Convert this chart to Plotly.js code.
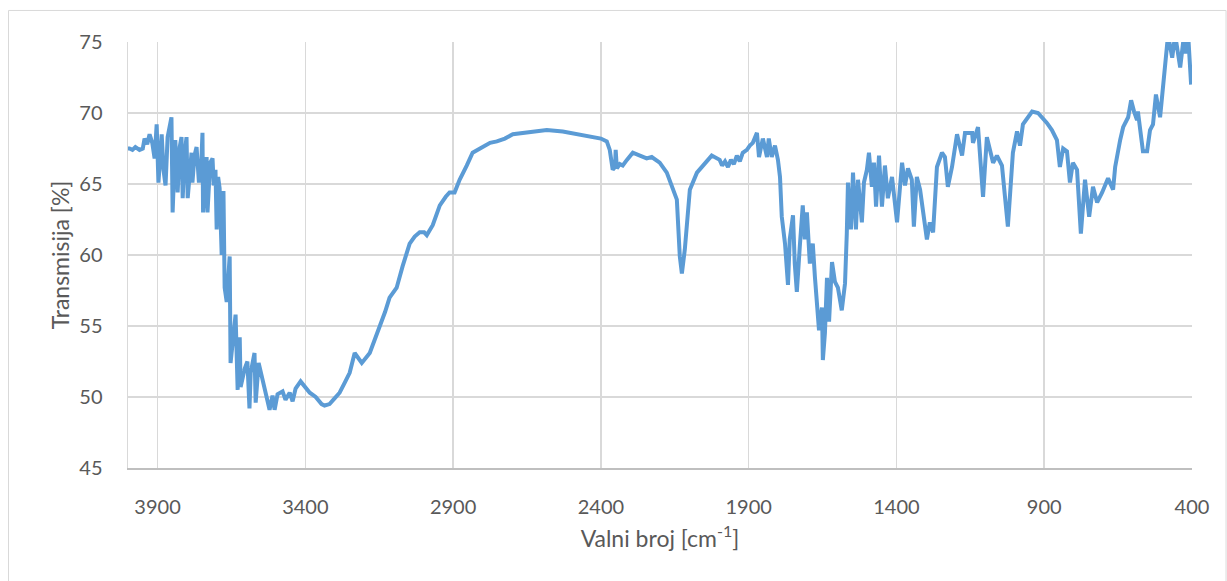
<!DOCTYPE html>
<html>
<head>
<meta charset="utf-8">
<script src="https://cdn.plot.ly/plotly-3.0.1.min.js"></script>
<style>
  html, body { margin: 0; padding: 0; background: #ffffff; }
  #chart { width: 1227px; height: 581px; }
</style>
</head>
<body>
<div id="chart"></div>
<script>
// Wavenumber (cm^-1)
const wavenumber = [
  4002, 3995, 3985, 3975, 3961, 3950, 3944, 3935, 3927, 3918, 3910, 3903, 3897, 3886, 3880, 3873,
  3866, 3853, 3849, 3840, 3832, 3825, 3819, 3815, 3808, 3802, 3798, 3790, 3785, 3782, 3775, 3768,
  3760, 3752, 3748, 3746, 3738, 3734, 3731, 3722, 3714, 3710, 3704, 3700, 3695, 3690, 3683, 3677,
  3673, 3666, 3656, 3653, 3636, 3629, 3622, 3619, 3605, 3596, 3589, 3585, 3572, 3568, 3558, 3551,
  3544, 3534, 3521, 3511, 3504, 3494, 3477, 3467, 3453, 3443, 3433, 3416, 3402, 3385, 3365, 3345,
  3335, 3318, 3301, 3284, 3267, 3250, 3233, 3209, 3182, 3165, 3148, 3130, 3115, 3091, 3071, 3047,
  3030, 3013, 2998, 2989, 2969, 2945, 2925, 2912, 2895, 2878, 2854, 2834, 2800, 2775, 2752, 2725,
  2698, 2665, 2631, 2583, 2529, 2471, 2427, 2400, 2380, 2370, 2360, 2352, 2350, 2346, 2336, 2326,
  2312, 2292, 2268, 2245, 2228, 2201, 2177, 2160, 2143, 2133, 2126, 2116, 2099, 2075, 2048, 2025,
  1998, 1990, 1980, 1970, 1960, 1950, 1940, 1930, 1920, 1906, 1896, 1886, 1872, 1865, 1852, 1838,
  1832, 1822, 1811, 1801, 1794, 1788, 1777, 1767, 1761, 1750, 1744, 1737, 1727, 1717, 1710, 1703,
  1693, 1683, 1676, 1669, 1662, 1652, 1649, 1642, 1635, 1628, 1618, 1608, 1598, 1585, 1574, 1568,
  1564, 1554, 1547, 1537, 1530, 1517, 1510, 1500, 1493, 1483, 1476, 1469, 1459, 1449, 1439, 1429,
  1415, 1398, 1381, 1371, 1361, 1348, 1341, 1331, 1320, 1297, 1287, 1276, 1263, 1246, 1236, 1226,
  1212, 1195, 1178, 1168, 1144, 1141, 1124, 1107, 1094, 1073, 1060, 1043, 1023, 1006, 992, 982,
  972, 941, 921, 891, 874, 857, 847, 836, 823, 813, 803, 789, 776, 762, 748, 735,
  721, 704, 684, 667, 660, 643, 633, 616, 606, 596, 586, 583, 566, 552, 542, 532,
  522, 508, 498, 488, 481, 467, 457, 440, 427, 423, 413, 403
];
// Transmission (%)
const transmission = [
  67.5, 67.5, 67.4, 67.6, 67.4, 67.5, 68.2, 67.8, 68.5, 67.9, 66.8, 69.2, 65.1, 68.5, 66.0, 64.9,
  68.3, 69.7, 63.0, 68.1, 64.4, 67.6, 68.3, 64.0, 67.2, 68.3, 64.0, 66.0, 67.2, 65.1, 67.0, 67.6,
  65.1, 66.5, 68.6, 63.0, 66.2, 66.9, 63.0, 66.5, 66.8, 64.9, 66.0, 61.8, 65.5, 64.7, 60.0, 64.5,
  57.7, 56.7, 59.9, 52.4, 55.8, 50.5, 54.2, 50.7, 52.0, 52.5, 49.2, 51.7, 53.1, 49.6, 52.4, 51.8,
  51.0, 50.3, 49.1, 50.1, 49.1, 50.2, 50.4, 49.8, 50.3, 49.7, 50.6, 51.1, 50.7, 50.3, 50.0, 49.5,
  49.4, 49.5, 49.9, 50.3, 51.0, 51.7, 53.1, 52.4, 53.1, 54.0, 54.9, 56.0, 57.0, 57.7, 59.2, 60.8,
  61.3, 61.6, 61.6, 61.4, 62.1, 63.5, 64.1, 64.4, 64.4, 65.3, 66.3, 67.2, 67.6, 67.9, 68.0, 68.2,
  68.5, 68.6, 68.7, 68.8, 68.7, 68.5, 68.3, 68.2, 68.0, 67.4, 66.0, 66.2, 67.4, 66.1, 66.4, 66.3,
  66.7, 67.2, 67.0, 66.8, 66.9, 66.5, 65.8, 64.8, 63.9, 59.9, 58.7, 60.4, 64.6, 65.8, 66.5, 67.0,
  66.7, 66.3, 66.6, 66.2, 66.7, 66.4, 67.0, 66.6, 67.2, 67.4, 67.7, 67.9, 68.6, 66.9, 68.2, 66.9,
  68.2, 66.9, 67.7, 66.7, 65.5, 62.7, 60.8, 57.9, 61.1, 62.8, 59.4, 57.4, 60.6, 63.5, 61.1, 63.0,
  59.4, 60.8, 58.5, 56.8, 54.7, 56.3, 52.6, 54.5, 58.4, 55.3, 59.5, 58.1, 57.7, 56.1, 58.0, 61.5,
  65.1, 61.8, 65.8, 61.8, 65.3, 62.3, 65.1, 66.0, 67.2, 64.8, 66.5, 63.4, 67.0, 63.4, 66.3, 64.0,
  65.5, 62.3, 66.5, 64.9, 66.1, 65.3, 62.0, 65.5, 64.6, 61.1, 62.3, 61.6, 66.2, 67.2, 66.9, 64.8,
  66.2, 68.5, 67.0, 68.6, 68.6, 67.9, 69.0, 64.1, 68.3, 66.5, 67.0, 66.3, 62.0, 67.2, 68.7, 67.7,
  69.2, 70.1, 70.0, 69.3, 68.8, 68.1, 66.2, 67.5, 67.3, 65.1, 66.5, 66.0, 61.5, 65.3, 62.7, 64.8,
  63.7, 64.4, 65.4, 64.6, 66.2, 68.1, 69.0, 69.7, 70.9, 70.1, 69.5, 70.1, 67.3, 67.3, 68.8, 69.2,
  71.3, 69.7, 71.8, 73.9, 75.5, 73.9, 75.5, 73.2, 75.5, 74.2, 75.5, 72.0
];
const xTickValues = [3900, 3400, 2900, 2400, 1900, 1400, 900, 400];
const yTickValues = [45, 50, 55, 60, 65, 70, 75];
const xTitle = 'Valni broj [cm<sup>-1</sup>]';
const yTitle = 'Transmisija [%]';

const FONT = 'Lato, "Open Sans", "Liberation Sans", sans-serif';
const GRID = '#d9d9d9';
const TXT = '#595959';

const trace = {
  type: 'scatter',
  mode: 'lines',
  x: wavenumber,
  y: transmission,
  line: { color: '#5B9BD5', width: 4 },
  hoverinfo: 'x+y'
};

const layout = {
  width: 1227,
  height: 581,
  margin: { l: 128, r: 35, t: 42, b: 113 },
  paper_bgcolor: '#ffffff',
  plot_bgcolor: '#ffffff',
  showlegend: false,
  font: { family: FONT, color: TXT, size: 20 },
  xaxis: {
    range: [4000, 400],
    tickmode: 'array',
    tickvals: xTickValues,
    ticktext: xTickValues.map(String),
    showgrid: true,
    gridcolor: GRID,
    gridwidth: 1.5,
    zeroline: false,
    showline: true,
    linecolor: '#bfbfbf',
    linewidth: 1.5,
    ticks: '',
    ticklabelstandoff: 20,
    tickfont: { family: FONT, size: 20, color: TXT },
    title: { text: xTitle, font: { family: FONT, size: 23, color: TXT }, standoff: 14 }
  },
  yaxis: {
    range: [45, 75],
    tickmode: 'array',
    tickvals: yTickValues,
    ticktext: yTickValues.map(String),
    showgrid: true,
    gridcolor: GRID,
    gridwidth: 1.5,
    zeroline: false,
    showline: true,
    linecolor: '#d9d9d9',
    linewidth: 1.5,
    ticks: '',
    ticklabelstandoff: 20,
    tickfont: { family: FONT, size: 20, color: TXT },
    title: { text: yTitle, font: { family: FONT, size: 23, color: TXT }, standoff: 3 }
  },
  shapes: [
    {
      type: 'rect', xref: 'paper', yref: 'paper',
      x0: -0.1123, x1: 1.032, y0: -0.35, y1: 1.074,
      line: { color: '#d9d9d9', width: 1 },
      fillcolor: 'rgba(0,0,0,0)',
      layer: 'below'
    }
  ]
};

Plotly.newPlot('chart', [trace], layout, { displayModeBar: false, staticPlot: true });
</script>
</body>
</html>
